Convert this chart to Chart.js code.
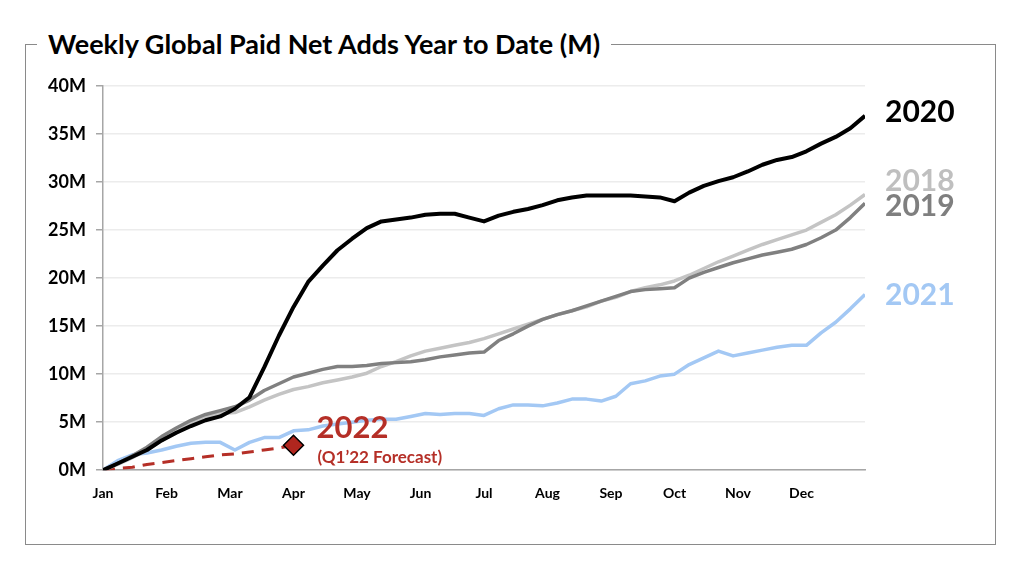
<!DOCTYPE html>
<html lang="en">
<head>
    <meta charset="UTF-8" />
    <title>Weekly Global Paid Net Adds Year to Date (M)</title>
    <style>
        html, body {
            margin: 0;
            padding: 0;
            background: #fff;
            width: 1024px;
            height: 564px;
            overflow: hidden;
            font-family: Lato, "Open Sans", sans-serif;
        }

        .frame {
            position: absolute;
            left: 25px;
            top: 44px;
            width: 969px;
            height: 499px;
            border: 1.5px solid #8a8a8a;
        }

        .title {
            position: absolute;
            left: 11px;
            top: -19px;
            padding: 0 11px;
            background: #fff;
            font-weight: bold;
            font-size: 27px;
            line-height: 36px;
            color: #000;
            white-space: nowrap;
        }

        #wrap {
            position: absolute;
            left: 0;
            top: 0;
            width: 1024px;
            height: 564px;
        }
    </style>
    <script src="https://cdn.jsdelivr.net/npm/chart.js"></script>
</head>
<body>
    <div class="frame">
        <div class="title">Weekly Global Paid Net Adds Year to Date (M)</div>
    </div>
    <div id="wrap"><canvas id="netAdds"></canvas></div>

    <script>
    // month tick labels
    const months = ['Jan', 'Feb', 'Mar', 'Apr', 'May', 'Jun', 'Jul', 'Aug', 'Sep', 'Oct', 'Nov', 'Dec'];
    const yTicks = [0, 5, 10, 15, 20, 25, 30, 35, 40];

    // cumulative paid net adds (M), one value per week, week 0 = start of Jan
    const y2020 = [0, 0.7, 1.4, 2.1, 3.1, 3.9, 4.6, 5.2, 5.6, 6.4, 7.6, 10.7, 14.0, 17.0, 19.6, 21.3,
        22.9, 24.1, 25.2, 25.9, 26.1, 26.3, 26.6, 26.7, 26.7, 26.3, 25.9, 26.5, 26.9, 27.2, 27.6,
        28.1, 28.4, 28.6, 28.6, 28.6, 28.6, 28.5, 28.4, 28.0, 28.9, 29.6, 30.1, 30.5, 31.1, 31.8,
        32.3, 32.6, 33.2, 34.0, 34.7, 35.6, 36.9];
    const y2018 = [0, 0.6, 1.3, 2.1, 3.1, 4.0, 4.9, 5.5, 5.9, 6.0, 6.6, 7.3, 7.9, 8.4, 8.7, 9.1,
        9.4, 9.7, 10.1, 10.8, 11.3, 11.9, 12.4, 12.7, 13.0, 13.3, 13.7, 14.2, 14.7, 15.2, 15.7,
        16.2, 16.6, 17.0, 17.6, 18.0, 18.6, 19.0, 19.3, 19.7, 20.3, 21.0, 21.7, 22.3, 22.9, 23.5,
        24.0, 24.5, 25.0, 25.8, 26.6, 27.6, 28.7];
    const y2019 = [0, 0.7, 1.5, 2.4, 3.5, 4.4, 5.2, 5.8, 6.2, 6.6, 7.3, 8.3, 9.0, 9.7, 10.1, 10.5,
        10.8, 10.8, 10.9, 11.1, 11.2, 11.3, 11.5, 11.8, 12.0, 12.2, 12.3, 13.5, 14.2, 15.0, 15.7,
        16.2, 16.6, 17.1, 17.6, 18.1, 18.6, 18.8, 18.9, 19.0, 20.0, 20.6, 21.1, 21.6, 22.0, 22.4,
        22.7, 23.0, 23.5, 24.2, 25.0, 26.3, 27.8];
    const y2021 = [0, 1.0, 1.6, 1.8, 2.1, 2.5, 2.8, 2.9, 2.9, 2.1, 2.9, 3.4, 3.4, 4.1, 4.2, 4.6,
        4.8, 5.0, 5.2, 5.3, 5.3, 5.6, 5.9, 5.8, 5.9, 5.9, 5.7, 6.4, 6.8, 6.8, 6.7,
        7.0, 7.4, 7.4, 7.2, 7.7, 9.0, 9.3, 9.8, 10.0, 11.0, 11.7, 12.4, 11.9, 12.2, 12.5,
        12.8, 13.0, 13.0, 14.3, 15.4, 16.8, 18.3];
    // Q1'22 forecast
    const y2022 = [0, 0.2, 0.3, 0.6, 0.8, 1.0, 1.2, 1.4, 1.6, 1.7, 1.9, 2.1, 2.3, 2.6];

    const WEEKS = 52;
    const FONT = 'Lato, "Open Sans", sans-serif';
    const RED = '#b52f27';

    function pts(arr) {
      return arr.map((v, i) => ({ x: i, y: v }));
    }

    // end labels beside the lines (pixel nudge keeps 2018/2019 apart)
    const endLabels = [
      { text: '2020', data: y2020, color: '#000000', nudge: -3 },
      { text: '2018', data: y2018, color: '#bfbfbf', nudge: -13 },
      { text: '2019', data: y2019, color: '#7f7f7f', nudge: 3 },
      { text: '2021', data: y2021, color: '#a3c8f4', nudge: 1 }
    ];

    const labelPlugin = {
      id: 'seriesLabels',
      afterDatasetsDraw(chart) {
        const { ctx, chartArea, scales } = chart;
        ctx.save();
        ctx.textBaseline = 'middle';
        ctx.textAlign = 'left';
        ctx.font = 'bold 30px ' + FONT;
        endLabels.forEach(l => {
          const y = scales.y.getPixelForValue(l.data[l.data.length - 1]) + l.nudge;
          ctx.fillStyle = l.color;
          ctx.fillText(l.text, chartArea.right + 20, y);
        });
        // 2022 forecast callout next to the diamond
        const last = y2022.length - 1;
        const dx = scales.x.getPixelForValue(last);
        const dy = scales.y.getPixelForValue(y2022[last]);
        ctx.fillStyle = RED;
        ctx.font = 'bold 31px ' + FONT;
        ctx.fillText('2022', dx + 23, dy - 17);
        ctx.font = 'bold 17px ' + FONT;
        ctx.fillText('(Q1\u201922 Forecast)', dx + 24, dy + 12);
        ctx.restore();
      }
    };

    const lineBase = { fill: false, tension: 0, pointRadius: 0, borderJoinStyle: 'round' };

    new Chart(document.getElementById('netAdds'), {
      type: 'line',
      data: {
        datasets: [
          { ...lineBase, label: '2020', data: pts(y2020), borderColor: '#000000', borderWidth: 4, order: 0 },
          { ...lineBase, label: '2019', data: pts(y2019), borderColor: '#808080', borderWidth: 3.5, order: 1 },
          { ...lineBase, label: '2018', data: pts(y2018), borderColor: '#c4c4c4', borderWidth: 3.5, order: 2 },
          { ...lineBase, label: '2021', data: pts(y2021), borderColor: '#a3c8f4', borderWidth: 3.5, order: 3 },
          {
            ...lineBase, label: '2022', data: pts(y2022), borderColor: RED, borderWidth: 3,
            borderDash: [12, 8], order: 4,
            pointRadius: y2022.map((v, i) => i === y2022.length - 1 ? 10 : 0),
            pointStyle: 'rectRot', pointBackgroundColor: '#b0261e',
            pointBorderColor: '#000', pointBorderWidth: 1.5
          }
        ]
      },
      options: {
        responsive: true,
        maintainAspectRatio: false,
        animation: false,
        layout: { padding: { left: 0, top: 86, right: 159, bottom: 47 } },
        plugins: { legend: { display: false }, tooltip: { enabled: false } },
        scales: {
          x: {
            type: 'linear',
            min: 0,
            max: WEEKS,
            afterBuildTicks(scale) {
              scale.ticks = months.map((m, i) => ({ value: i * WEEKS / 12 }));
            },
            ticks: {
              autoSkip: false,
              maxRotation: 0,
              padding: 15,
              color: '#000',
              font: { family: FONT, weight: 'bold', size: 14 },
              callback: (v, i) => months[i]
            },
            grid: { display: false, drawTicks: false },
            border: { color: '#a6a6a6', width: 1.5 }
          },
          y: {
            min: 0,
            max: 40,
            afterBuildTicks(scale) {
              scale.ticks = yTicks.map(v => ({ value: v }));
            },
            afterFit(scale) {
              scale.width = 103;
            },
            ticks: {
              padding: 10,
              color: '#000',
              font: { family: FONT, weight: 'bold', size: 18 },
              callback: v => v + 'M'
            },
            grid: { color: '#ececec', lineWidth: 1.5, tickLength: 7, tickColor: '#a6a6a6' },
            border: { color: '#a6a6a6', width: 1.5 }
          }
        }
      },
      plugins: [labelPlugin]
    });
    </script>
</body>
</html>
